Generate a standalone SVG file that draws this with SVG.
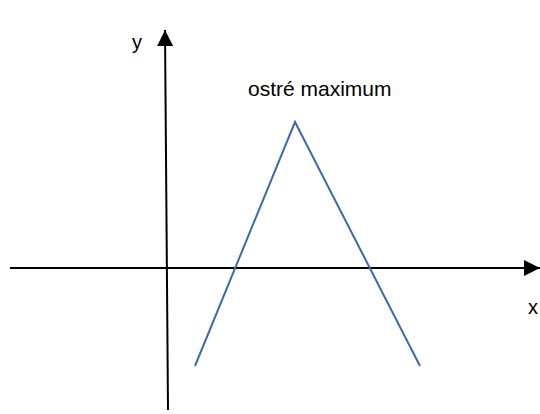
<svg xmlns="http://www.w3.org/2000/svg" width="540" height="414" viewBox="0 0 540 414">
<style>
.t{font-family:"Liberation Sans",Arial,sans-serif;font-size:20px;fill:#000}
.ax{stroke:#000;stroke-width:2;fill:none}
.curve{stroke:#3d6aa8;stroke-width:2;fill:none;stroke-linejoin:miter}
</style>
<defs>
<marker id="ah" viewBox="0 0 16 16" refX="16" refY="8" markerWidth="16" markerHeight="16" markerUnits="userSpaceOnUse" orient="auto">
<path d="M0,0 L16,8 L0,16 Z" fill="#000"/>
</marker>
</defs>
<rect width="540" height="414" fill="#fff"/>
<g id="connectors">
<line id="x-axis" class="ax" x1="10" y1="268" x2="540" y2="268" marker-end="url(#ah)"/>
<line id="y-axis" class="ax" x1="168" y1="410" x2="165" y2="30" marker-end="url(#ah)"/>
<polyline id="curve" class="curve" points="195,366 295,122 420,366"/>
</g>
<g id="label-y"><text class="t" x="132" y="49">y</text></g>
<g id="label-x"><text class="t" x="528" y="314">x</text></g>
<g id="label-max"><text class="t" x="248" y="96" style="font-size:21px">ostré maximum</text></g>
</svg>
